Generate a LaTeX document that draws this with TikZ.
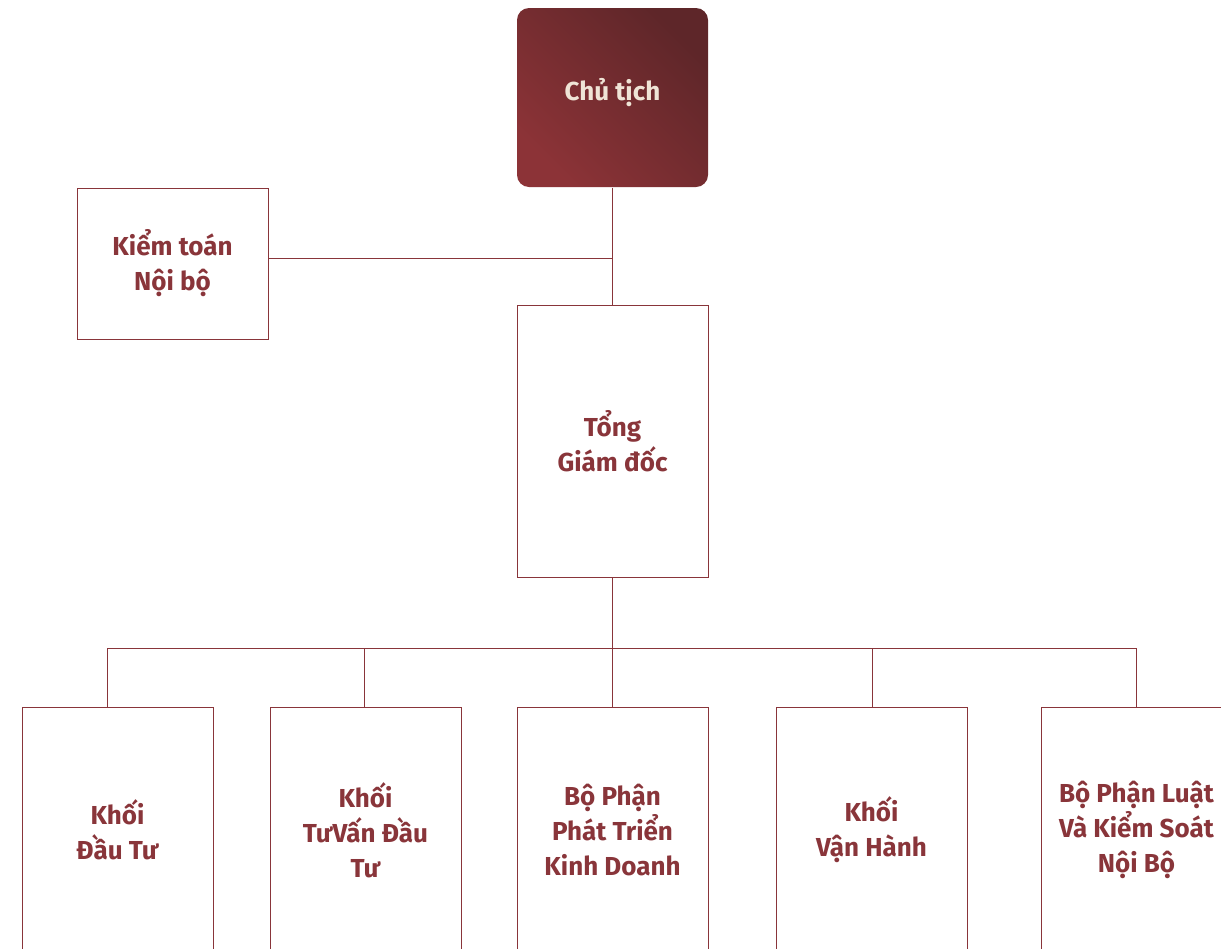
\documentclass[tikz,border=0pt]{standalone}
\usepackage{fontspec}
\setmainfont{Fira Sans}
\usetikzlibrary{positioning}
\definecolor{maroon}{HTML}{89353A}
\definecolor{maroondark}{HTML}{5E2629}
\definecolor{maroonlight}{HTML}{8C3337}
\definecolor{cream}{HTML}{EFE4D6}

\begin{document}
\begin{tikzpicture}[x=1pt, y=1pt,
  unit/.style={draw=maroon, line width=1pt, fill=white, minimum width=191pt,
    inner sep=0pt, align=center, text=maroon,
    font=\fontsize{26}{35}\selectfont\bfseries},
  head/.style={unit, draw=none, rounded corners=12pt, shading=axis,
    top color=maroondark, bottom color=maroonlight, shading angle=-45,
    text=cream, minimum height=179pt},
  link/.style={draw=maroon, line width=1pt}]
\useasboundingbox (0,0) rectangle (1221,-948);

\node[head] (ct) at (612.5,-97.5) {};
\node[text=cream, font=\fontsize{26}{35}\selectfont\bfseries] (ctl) at (612.5,-93) {Chủ tịch};
\node[unit, minimum height=151pt] (kt) at (172.5,-263.5) {Kiểm toán\\Nội bộ};
\node[unit, minimum height=272pt] (gd) at (612.5,-441) {Tổng\\Giám đốc};

  \node[unit, minimum height=246pt] (dt) at (117.5,-830) {Khối\\Đầu Tư};
  \node[unit, minimum height=246pt] (tv) at (365.5,-830) {Khối\\TưVấn Đầu\\Tư};
  \node[unit, minimum height=246pt] (pt) at (612.5,-830) {Bộ Phận\\Phát Triển\\Kinh Doanh};
  \node[unit, minimum height=246pt] (vh) at (871.5,-830) {Khối\\Vận Hành};
  \node[unit, minimum height=246pt] (lu) at (1136.5,-830) {Bộ Phận Luật\\Và Kiểm Soát\\Nội Bộ};

\coordinate (kj) at (612.5,-258);
\coordinate (bus) at (612.5,-648);
\draw[link] (ct) -- (gd);
\draw[link] (kt.east |- kj) -- (kj);
\draw[link] (gd) -- (bus);
\draw[link] (107,-648) -- (1136.5,-648);
\draw[link] (107,-648) -- (107,-707);
\draw[link] (364,-648) -- (364,-707);
\draw[link] (bus) -- (pt);
\draw[link] (872,-648) -- (872,-707);
\draw[link] (1136.5,-648) -- (lu);

\end{tikzpicture}
\end{document}
